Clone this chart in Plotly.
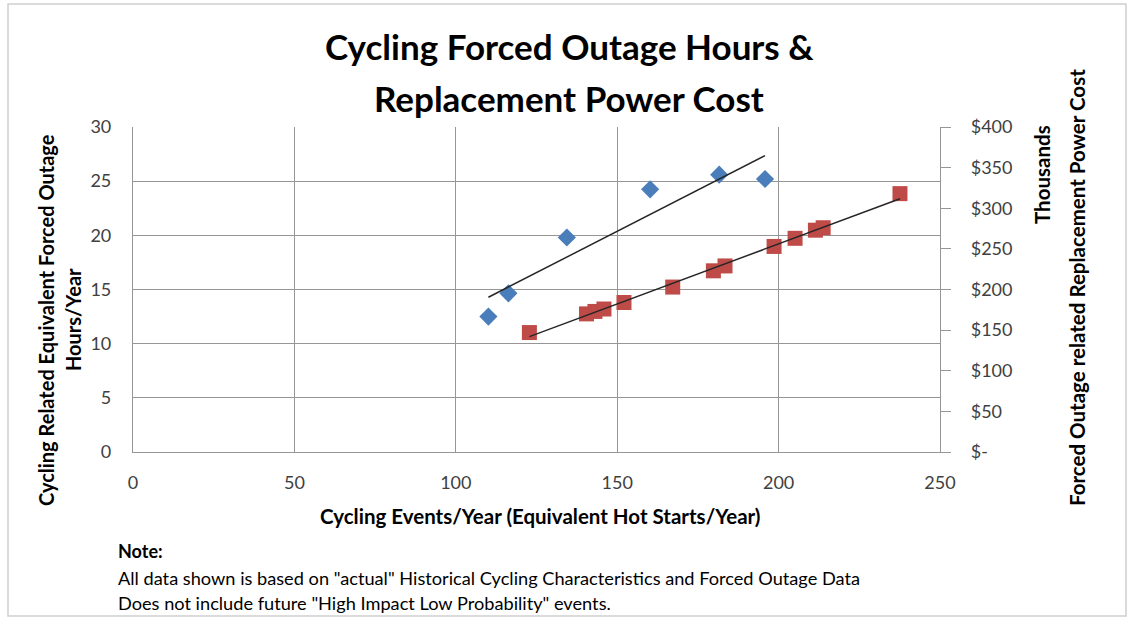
import numpy as np
import plotly.graph_objects as go

# ---- data ----
hours_x = [110.1, 116.3, 134.4, 160.2, 181.6, 195.8]
hours_y = [12.5, 14.65, 19.8, 24.25, 25.6, 25.2]

cost_x = [122.8, 140.5, 143.1, 145.9, 152.1, 167.2, 179.8, 183.4, 198.6, 205.1, 211.4, 213.8, 237.6]
cost_y = [147, 170, 173, 176, 184, 203, 223, 229, 253, 263, 273, 276, 318]

x_ticks = [0, 50, 100, 150, 200, 250]
y_ticks = [0, 5, 10, 15, 20, 25, 30]
y2_ticks = [0, 50, 100, 150, 200, 250, 300, 350, 400]
y2_labels = ["$-", "$50", "$100", "$150", "$200", "$250", "$300", "$350", "$400"]

FONT = "Lato"
W, H = 1129, 618
L, R, T, B = 133, 940, 127, 452


def px(x):
    return (x - L) / (R - L)


def py(y):
    return (B - y) / (B - T)


def fit(xs, ys):
    xs = np.asarray(xs, float)
    ys = np.asarray(ys, float)
    m, c = np.polyfit(xs, ys, 1)
    xe = np.array([xs.min(), xs.max()])
    return xe, m * xe + c


fig = go.Figure()

fig.add_trace(go.Scatter(
    x=hours_x, y=hours_y, mode="markers",
    marker=dict(symbol="diamond", size=14, color="#4A7EBB",
                line=dict(width=0)),
    showlegend=False, yaxis="y"))
tx, ty = fit(hours_x, hours_y)
fig.add_trace(go.Scatter(x=tx, y=ty, mode="lines",
                         line=dict(color="#262626", width=1.5),
                         showlegend=False, yaxis="y"))

fig.add_trace(go.Scatter(
    x=cost_x, y=cost_y, mode="markers",
    marker=dict(symbol="square", size=15, color="#BE4B48",
                line=dict(width=0)),
    showlegend=False, yaxis="y2"))
tx2, ty2 = fit(cost_x, cost_y)
fig.add_trace(go.Scatter(x=tx2, y=ty2, mode="lines",
                         line=dict(color="#262626", width=1.5),
                         showlegend=False, yaxis="y2"))

grid = "#969696"
tickfont = dict(family=FONT, size=18, color="#404040")

fig.update_layout(
    width=W, height=H, autosize=False,
    margin=dict(l=L, r=W - R, t=T, b=H - B, pad=0),
    paper_bgcolor="white", plot_bgcolor="white",
    font=dict(family=FONT, color="#000000"),
    xaxis=dict(range=[0, 250], tickvals=x_ticks, showgrid=True, gridcolor=grid,
               gridwidth=1.2, zeroline=False, showline=True, linecolor=grid,
               linewidth=1.2, mirror=False, ticks="", tickfont=tickfont,
               ticklabelstandoff=14),
    yaxis=dict(range=[0, 30], tickvals=y_ticks, showgrid=True, gridcolor=grid,
               gridwidth=1.2, zeroline=False, showline=True, linecolor=grid,
               linewidth=1.2, ticks="", tickfont=tickfont,
               ticklabelstandoff=17),
    yaxis2=dict(range=[0, 400], tickvals=y2_ticks, ticktext=y2_labels,
                overlaying="y", side="right", showgrid=False, zeroline=False,
                showline=True, linecolor=grid, linewidth=1.2,
                ticks="outside", ticklen=10, tickcolor=grid, tickwidth=1.2,
                tickfont=tickfont, ticklabelstandoff=16),
    shapes=[dict(type="rect", xref="paper", yref="paper",
                 x0=px(8), x1=px(1126), y0=py(4), y1=py(616),
                 line=dict(color="#D0D0D0", width=1.5), layer="below")],
)

ann = []
title_font = dict(family=FONT, size=35, color="#000000")
ann.append(dict(text="<b>Cycling Forced Outage Hours &</b>",
                x=px(569), y=py(46), xref="paper", yref="paper",
                xanchor="center", yanchor="middle", showarrow=False,
                font=title_font))
ann.append(dict(text="<b>Replacement Power Cost</b>",
                x=px(569), y=py(98), xref="paper", yref="paper",
                xanchor="center", yanchor="middle", showarrow=False,
                font=title_font))
ann.append(dict(text="<b>Cycling Related Equivalent Forced Outage</b>",
                x=px(46), y=py(320), xref="paper", yref="paper",
                xanchor="center", yanchor="middle", showarrow=False, textangle=-90,
                font=dict(family=FONT, size=20, color="#000000")))
ann.append(dict(text="<b>Hours/Year</b>",
                x=px(73), y=py(320), xref="paper", yref="paper",
                xanchor="center", yanchor="middle", showarrow=False, textangle=-90,
                font=dict(family=FONT, size=20, color="#000000")))
ann.append(dict(text="<b>Cycling Events/Year (Equivalent Hot Starts/Year)</b>",
                x=px(540), y=py(516), xref="paper", yref="paper",
                xanchor="center", yanchor="middle", showarrow=False,
                font=dict(family=FONT, size=20.5, color="#000000")))
ann.append(dict(text="<b>Thousands</b>",
                x=px(1042), y=py(175), xref="paper", yref="paper",
                xanchor="center", yanchor="middle", showarrow=False, textangle=-90,
                font=dict(family=FONT, size=20.5, color="#000000")))
ann.append(dict(text="<b>Forced Outage related Replacement Power Cost</b>",
                x=px(1077), y=py(288), xref="paper", yref="paper",
                xanchor="center", yanchor="middle", showarrow=False, textangle=-90,
                font=dict(family=FONT, size=20.5, color="#000000")))
ann.append(dict(text="<b>Note:</b>",
                x=px(116), y=py(551), xref="paper", yref="paper",
                xanchor="left", yanchor="middle", showarrow=False,
                font=dict(family=FONT, size=18, color="#000000")))
ann.append(dict(text="All data shown is based on \"actual\" Historical Cycling Characteristics and Forced Outage Data",
                x=px(116), y=py(578), xref="paper", yref="paper",
                xanchor="left", yanchor="middle", showarrow=False,
                font=dict(family=FONT, size=18.2, color="#000000")))
ann.append(dict(text="Does not include future \"High Impact Low Probability\" events.",
                x=px(116), y=py(603), xref="paper", yref="paper",
                xanchor="left", yanchor="middle", showarrow=False,
                font=dict(family=FONT, size=18.2, color="#000000")))
fig.update_layout(annotations=ann)

fig.write_html("out.html", config={"displayModeBar": False},
               post_script="document.body.style.margin='0';document.body.style.overflow='hidden';")
